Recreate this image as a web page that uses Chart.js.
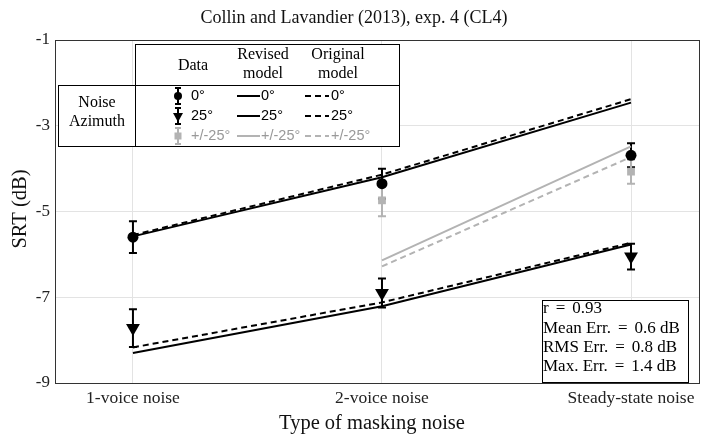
<!DOCTYPE html>
<html>
<head>
<meta charset="utf-8">
<script src="https://cdn.jsdelivr.net/npm/chart.js@4.4.1/dist/chart.umd.min.js"></script>
<style>
  html, body { margin: 0; padding: 0; background: #fff; }
  #wrap { width: 702px; height: 438px; }
</style>
</head>
<body>
<div id="wrap"><canvas id="chart" width="702" height="438"></canvas></div>
<script>
// categories and positions on the x axis
const categories = ['1-voice noise', '2-voice noise', 'Steady-state noise'];
const catX = [0, 1, 2];

// measured SRTs (dB) and error bar half-widths
const data0 = [-5.6, -4.35, -3.69];
const err0 = [0.37, 0.35, 0.28];
const data25 = [-7.72, -6.9, -6.05];
const err25 = [0.44, 0.34, 0.3];
const dataPM = [null, -4.74, -4.07];
const errPM = [null, 0.37, 0.28];

// model predictions
const revised0 = [-5.58, -4.2, -2.46];
const original0 = [-5.55, -4.14, -2.38];
const revised25 = [-8.3, -7.21, -5.77];
const original25 = [-8.17, -7.12, -5.73];
const revisedPM = [null, -6.14, -3.48];
const originalPM = [null, -6.28, -3.73];

const yTicks = [-9, -7, -5, -3, -1];
const statLines = ['r = 0.93', 'Mean Err. = 0.6 dB', 'RMS Err. = 0.8 dB', 'Max. Err. = 1.4 dB'];

const SERIF = '"Liberation Serif", "Times New Roman", serif';
const SANS = '"Liberation Sans", Arial, sans-serif';
const GRAY = '#b3b3b3';
const DASH = [6, 4];

const toPts = arr => arr.map((y, i) => (y == null ? null : { x: catX[i], y })).filter(Boolean);

function lineSet(arr, color, dashed) {
  return {
    data: toPts(arr),
    showLine: true,
    borderColor: color,
    borderWidth: 2,
    borderDash: dashed ? DASH : [],
    pointRadius: 0,
    order: 5
  };
}

function pointSet(arr, color, style, radius, rotation, order) {
  return {
    data: toPts(arr),
    showLine: false,
    pointStyle: style,
    pointRadius: radius,
    pointRotation: rotation,
    backgroundColor: color,
    borderColor: color,
    borderWidth: 0,
    order
  };
}

// error bars drawn through the chart scales
const errorBars = {
  id: 'errorBars',
  beforeDatasetsDraw(chart) {
    const { ctx, scales: { x, y } } = chart;
    const groups = [
      [data0, err0, '#000'],
      [data25, err25, '#000'],
      [dataPM, errPM, GRAY]
    ];
    ctx.save();
    groups.forEach(([vals, errs, color]) => {
      vals.forEach((v, i) => {
        if (v == null) return;
        const px = x.getPixelForValue(catX[i]);
        const top = y.getPixelForValue(v + errs[i]);
        const bot = y.getPixelForValue(v - errs[i]);
        ctx.strokeStyle = color;
        ctx.lineWidth = 2;
        ctx.beginPath();
        ctx.moveTo(px, top); ctx.lineTo(px, bot);
        ctx.moveTo(px - 4, top); ctx.lineTo(px + 4, top);
        ctx.moveTo(px - 4, bot); ctx.lineTo(px + 4, bot);
        ctx.stroke();
      });
    });
    ctx.restore();
  }
};

function legendMarker(ctx, kind, cx, cy, color) {
  ctx.save();
  ctx.strokeStyle = color;
  ctx.fillStyle = color;
  ctx.lineWidth = 2;
  ctx.beginPath();
  ctx.moveTo(cx, cy - 8); ctx.lineTo(cx, cy + 8);
  ctx.moveTo(cx - 3, cy - 8); ctx.lineTo(cx + 3, cy - 8);
  ctx.moveTo(cx - 3, cy + 8); ctx.lineTo(cx + 3, cy + 8);
  ctx.stroke();
  ctx.beginPath();
  if (kind === 'circle') {
    ctx.arc(cx, cy, 4, 0, Math.PI * 2);
  } else if (kind === 'tri') {
    ctx.moveTo(cx - 5, cy - 3); ctx.lineTo(cx + 5, cy - 3); ctx.lineTo(cx, cy + 6);
    ctx.closePath();
  } else {
    ctx.rect(cx - 3.5, cy - 3.5, 7, 7);
  }
  ctx.fill();
  ctx.restore();
}

function legendLine(ctx, x1, x2, yy, color, dashed) {
  ctx.save();
  ctx.strokeStyle = color;
  ctx.lineWidth = 2;
  ctx.setLineDash(dashed ? DASH : []);
  ctx.beginPath();
  ctx.moveTo(x1, yy); ctx.lineTo(x2, yy);
  ctx.stroke();
  ctx.restore();
}

// text with extra room around "=" like LaTeX math spacing
function spacedText(ctx, text, x, y) {
  const parts = text.split(' = ');
  if (parts.length < 2) { ctx.fillText(text, x, y); return; }
  let cx = x;
  ctx.fillText(parts[0], cx, y);
  cx += ctx.measureText(parts[0]).width + 7;
  ctx.fillText('=', cx, y);
  cx += ctx.measureText('=').width + 7;
  ctx.fillText(parts[1], cx, y);
}

const decorations = {
  id: 'decorations',
  afterDraw(chart) {
    const { ctx, chartArea: a, scales: { x } } = chart;
    ctx.save();

    // axes box
    ctx.strokeStyle = '#333';
    ctx.lineWidth = 1;
    ctx.strokeRect(a.left + 0.5, a.top + 0.5, a.right - a.left - 1, a.bottom - a.top);

    // category labels
    ctx.fillStyle = '#222';
    ctx.textAlign = 'center';
    ctx.textBaseline = 'middle';
    ctx.font = '17.5px ' + SERIF;
    catX.forEach((v, i) => ctx.fillText(categories[i], x.getPixelForValue(v), 398));

    // titles
    ctx.fillStyle = '#111';
    ctx.font = '18px ' + SERIF;
    ctx.fillText('Collin and Lavandier (2013), exp. 4 (CL4)', 354, 18);
    ctx.font = '20.5px ' + SERIF;
    ctx.fillText('Type of masking noise', 372, 424);
    ctx.save();
    ctx.translate(21, 209);
    ctx.rotate(-Math.PI / 2);
    ctx.fillText('SRT (dB)', 0, 0);
    ctx.restore();

    // legend table
    ctx.fillStyle = '#fff';
    ctx.fillRect(135, 44, 265, 41);
    ctx.fillRect(58, 85, 342, 61);
    ctx.strokeStyle = '#000';
    ctx.lineWidth = 1;
    ctx.strokeRect(135.5, 44.5, 264, 41);
    ctx.strokeRect(58.5, 85.5, 341, 61);
    ctx.beginPath();
    ctx.moveTo(135.5, 85); ctx.lineTo(135.5, 146);
    ctx.stroke();

    ctx.fillStyle = '#000';
    ctx.font = '16px ' + SERIF;
    ctx.fillText('Data', 193, 66);
    ctx.fillText('Revised', 263, 55);
    ctx.fillText('model', 263, 74);
    ctx.fillText('Original', 338, 55);
    ctx.fillText('model', 338, 74);
    ctx.fillText('Noise', 97, 103);
    ctx.fillText('Azimuth', 97, 122);

    const rows = [
      { y: 96, label: '0°', color: '#000', kind: 'circle' },
      { y: 116, label: '25°', color: '#000', kind: 'tri' },
      { y: 136, label: '+/-25°', color: GRAY, kind: 'rect' }
    ];
    ctx.textAlign = 'left';
    ctx.font = '14.5px ' + SANS;
    rows.forEach(r => {
      legendMarker(ctx, r.kind, 178, r.y, r.color);
      legendLine(ctx, 237, 260, r.y, r.color, false);
      legendLine(ctx, 305, 329, r.y, r.color, true);
      ctx.fillStyle = r.color === GRAY ? '#999' : '#000';
      ctx.fillText(r.label, 191, r.y);
      ctx.fillText(r.label, 261, r.y);
      ctx.fillText(r.label, 331, r.y);
    });

    // statistics box
    ctx.fillStyle = '#fff';
    ctx.fillRect(542, 300, 147, 82);
    ctx.strokeStyle = '#000';
    ctx.strokeRect(542.5, 300.5, 146, 82);
    ctx.fillStyle = '#000';
    ctx.font = '17px ' + SERIF;
    statLines.forEach((t, i) => spacedText(ctx, t, 543, 309 + i * 19.3));

    ctx.restore();
  }
};

new Chart(document.getElementById('chart'), {
  type: 'scatter',
  data: {
    datasets: [
      lineSet(revised0, '#000', false),
      lineSet(original0, '#000', true),
      lineSet(revised25, '#000', false),
      lineSet(original25, '#000', true),
      lineSet(revisedPM, GRAY, false),
      lineSet(originalPM, GRAY, true),
      pointSet(data0, '#000', 'circle', 5.5, 0, 3),
      pointSet(data25, '#000', 'triangle', 8, 180, 3),
      pointSet(dataPM, GRAY, 'rect', 5.5, 0, 1)
    ]
  },
  options: {
    responsive: false,
    animation: false,
    layout: { autoPadding: false, padding: { top: 40, right: 2, left: 0, bottom: 0 } },
    plugins: {
      legend: { display: false },
      tooltip: { enabled: false },
      title: { display: false }
    },
    scales: {
      x: {
        type: 'linear',
        min: -0.313,
        max: 2.277,
        afterBuildTicks: s => { s.ticks = catX.map(v => ({ value: v })); },
        afterFit: s => { s.height = 55; },
        ticks: { display: false },
        grid: { color: '#e3e3e3', drawTicks: false },
        border: { display: false }
      },
      y: {
        min: -9,
        max: -1,
        afterBuildTicks: s => { s.ticks = yTicks.map(v => ({ value: v })); },
        afterFit: s => { s.width = 55; s.paddingTop = 0; s.paddingBottom = 0; },
        ticks: {
          font: { family: SERIF, size: 17 },
          color: '#222',
          padding: 5
        },
        grid: { color: '#e3e3e3', drawTicks: false },
        border: { display: false }
      }
    }
  },
  plugins: [errorBars, decorations]
});
</script>
</body>
</html>
